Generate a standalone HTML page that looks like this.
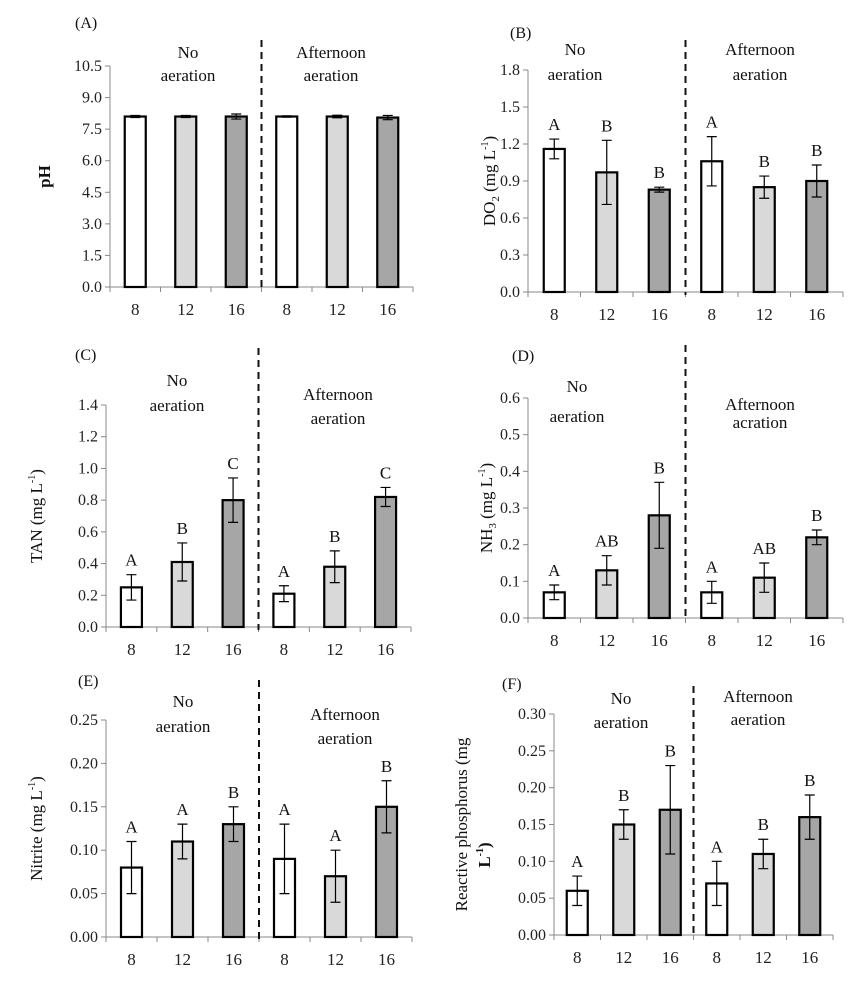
<!DOCTYPE html>
<html><head><meta charset="utf-8"><style>
html,body{margin:0;padding:0;background:#fff;}
svg{display:block;font-family:"Liberation Serif",serif;}
</style></head><body>
<svg id="fig" width="867" height="986" viewBox="0 0 867 986" xmlns="http://www.w3.org/2000/svg"></svg>
<script>
const categories = ["8","12","16","8","12","16"];
const phValues = [8.1,8.1,8.1,8.1,8.1,8.05];
const phErr = [0.05,0.05,0.12,0.03,0.06,0.1];
const phLetters = ["","","","","",""];
const doValues = [1.16,0.97,0.83,1.06,0.85,0.9];
const doErr = [0.08,0.26,0.02,0.2,0.09,0.13];
const doLetters = ["A","B","B","A","B","B"];
const tanValues = [0.25,0.41,0.80,0.21,0.38,0.82];
const tanErr = [0.08,0.12,0.14,0.05,0.1,0.06];
const tanLetters = ["A","B","C","A","B","C"];
const nh3Values = [0.07,0.13,0.28,0.07,0.11,0.22];
const nh3Err = [0.02,0.04,0.09,0.03,0.04,0.02];
const nh3Letters = ["A","AB","B","A","AB","B"];
const nitValues = [0.08,0.11,0.13,0.09,0.07,0.15];
const nitErr = [0.03,0.02,0.02,0.04,0.03,0.03];
const nitLetters = ["A","A","B","A","A","B"];
const phoValues = [0.06,0.15,0.17,0.07,0.11,0.16];
const phoErr = [0.02,0.02,0.06,0.03,0.02,0.03];
const phoLetters = ["A","B","B","A","B","B"];
const phTicks = [0,1.5,3,4.5,6,7.5,9,10.5];
const doTicks = [0,0.3,0.6,0.9,1.2,1.5,1.8];
const tanTicks = [0,0.2,0.4,0.6,0.8,1.0,1.2,1.4];
const nh3Ticks = [0,0.1,0.2,0.3,0.4,0.5,0.6];
const nitTicks = [0,0.05,0.10,0.15,0.20,0.25];
const phoTicks = [0,0.05,0.10,0.15,0.20,0.25,0.30];
const fills = ["#ffffff","#d9d9d9","#a6a6a6","#ffffff","#d9d9d9","#a6a6a6"];

const NS="http://www.w3.org/2000/svg";
const svg=document.getElementById('fig');
function mk(tag,attrs,parent,text){const e=document.createElementNS(NS,tag);for(const k in attrs)e.setAttribute(k,attrs[k]);if(text!==undefined)e.textContent=text;(parent||svg).appendChild(e);return e;}

function panel(p){
  const g=mk('g',{});
  
  
  const x0=p.x0,x1=p.x1,yTop=p.yTop,yBot=p.yBot,ymax=p.ticks[p.ticks.length-1];
  const ys=v=>yBot-(v/ymax)*(yBot-yTop);
  const step=(x1-x0)/categories.length;
  const xc=i=>x0+step*(i+0.5);
  // y axis
  const ya=mk('line',{x1:x0,y1:yTop,x2:x0,y2:yBot,stroke:'#888','stroke-width':1},g);
  
  p.ticks.forEach(t=>{
    mk('line',{x1:x0-5,y1:ys(t),x2:x0,y2:ys(t),stroke:'#888'},g);
    const tl=mk('text',{x:x0-8,y:ys(t)+5,'text-anchor':'end','font-size':16,fill:'#222'},g,t.toFixed(p.dec));
    
  });
  const xa=mk('line',{x1:x0,y1:yBot,x2:x1,y2:yBot,stroke:'#888'},g);
  
  for(let i=0;i<=categories.length;i++) mk('line',{x1:x0+step*i,y1:yBot,x2:x0+step*i,y2:yBot+5,stroke:'#888'},g);
  categories.forEach((c,i)=>{
    const t=mk('text',{x:xc(i),y:yBot+28,'text-anchor':'middle','font-size':17,fill:'#222'},g,c);
    
  });
  // dashed separator
  const dl=mk('line',{x1:x0+step*3,y1:p.dashTop,x2:x0+step*3,y2:yBot+3,stroke:'#111','stroke-width':2,'stroke-dasharray':'7,5'},g);
  
  // bars
  p.vals.forEach((v,i)=>{
    const bw=21;
    const b=mk('rect',{x:xc(i)-bw/2,y:ys(v),width:bw,height:yBot-ys(v),fill:fills[i],stroke:'#000','stroke-width':2.2},g);
    
    const e=p.err[i];
    const eb=mk('path',{d:`M${xc(i)} ${ys(v+e)}V${ys(v-e)}M${xc(i)-5} ${ys(v+e)}H${xc(i)+5}M${xc(i)-5} ${ys(v-e)}H${xc(i)+5}`,stroke:'#000','stroke-width':1.2,fill:'none'},g);
    
    if(p.letters[i]){
      const l=mk('text',{x:xc(i),y:ys(v+e)-9,'text-anchor':'middle','font-size':17,fill:'#111'},g,p.letters[i]);
      
    }
  });
  // panel label
  const pl=mk('text',{x:p.lx,y:p.ly,'font-size':16,fill:'#111'},g,'('+p.id+')');
  
  // group labels
  const gl1=mk('text',{'text-anchor':'middle','font-size':17,fill:'#111'},g);
  
  mk('tspan',{x:p.g1[0],y:p.g1[1]},gl1,'No');
  mk('tspan',{x:p.g1[0],y:p.g1[2]},gl1,'aeration');
  const gl2=mk('text',{'text-anchor':'middle','font-size':17,fill:'#111'},g);
  
  mk('tspan',{x:p.g2[0],y:p.g2[1]},gl2,'Afternoon');
  mk('tspan',{x:p.g2[0],y:p.g2[2]},gl2,p.a2||'aeration');
  // y title
  const yt=mk('text',{transform:`translate(${p.tx},${(yTop+yBot)/2}) rotate(-90)`,'text-anchor':'middle','font-size':17,fill:'#111','font-weight':p.bold?'bold':'normal'},g);
  
  p.title(yt);
}
function unitTitle(name,sub){return t=>{mk('tspan',{},t,name);if(sub)mk('tspan',{'font-size':11,dy:4},t,sub);mk('tspan',{dy:sub?-4:0},t,' (mg L');mk('tspan',{'font-size':10,dy:-7},t,'-1');mk('tspan',{dy:7},t,')');};}

panel({id:'A',x0:110,x1:413,yTop:66,yBot:287,ticks:phTicks,dec:1,vals:phValues,err:phErr,letters:phLetters,dashTop:40,lx:75,ly:28,g1:[188,58,81],g2:[331,58,81],tx:50,bold:true,title:t=>{t.textContent='pH';}});
panel({id:'B',x0:528,x1:843,yTop:70,yBot:292,ticks:doTicks,dec:1,vals:doValues,err:doErr,letters:doLetters,dashTop:40,lx:510,ly:38,g1:[575,55,80],g2:[760,55,80],tx:495,title:unitTitle('DO','2')});
panel({id:'C',x0:106,x1:411,yTop:405,yBot:627,ticks:tanTicks,dec:1,vals:tanValues,err:tanErr,letters:tanLetters,dashTop:348,lx:75,ly:360,g1:[177,386,411],g2:[338,400,424],tx:42,title:unitTitle('TAN','')});
panel({id:'D',x0:528,x1:843,yTop:398,yBot:618,ticks:nh3Ticks,dec:1,vals:nh3Values,err:nh3Err,letters:nh3Letters,dashTop:345,lx:512,ly:361,g1:[577,392,422],g2:[760,410,428],a2:'acration',tx:492,title:unitTitle('NH','3')});
panel({id:'E',x0:106,x1:412,yTop:720,yBot:937,ticks:nitTicks,dec:2,vals:nitValues,err:nitErr,letters:nitLetters,dashTop:680,lx:78,ly:686,g1:[183,707,732],g2:[345,720,744],tx:42,title:unitTitle('Nitrite','')});
panel({id:'F',x0:554,x1:833,yTop:714,yBot:935,ticks:phoTicks,dec:2,vals:phoValues,err:phoErr,letters:phoLetters,dashTop:686,lx:502,ly:689,g1:[621,704,728],g2:[758,702,725],tx:467,title:t=>{t.textContent='Reactive phosphorus    (mg';}});
const extra=mk('text',{transform:'translate(490,855) rotate(-90)','text-anchor':'middle','font-size':17,'font-weight':'bold',fill:'#111'});


mk('tspan',{},extra,'L');mk('tspan',{'font-size':10,dy:-7},extra,'-1');mk('tspan',{dy:7},extra,')');
</script>
</body></html>
